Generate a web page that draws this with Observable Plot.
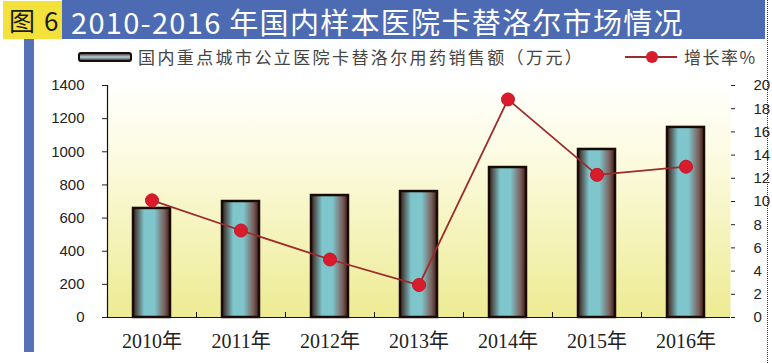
<!DOCTYPE html>
<html><head><meta charset="utf-8">
<script src="https://cdn.jsdelivr.net/npm/d3@7"></script>
<script src="https://cdn.jsdelivr.net/npm/@observablehq/plot@0.6"></script>
<style>
body{margin:0;background:#fff;}
#wrap{position:relative;width:772px;height:363px;overflow:hidden;font-family:"Noto Sans CJK SC",sans-serif;}
#chart{position:absolute;left:0;top:0;}
.bar{position:absolute;left:62px;top:0;width:703px;height:39px;background:#4d6bb2;}
.badge{position:absolute;left:3px;top:1px;width:59px;height:38px;background:#f3e23c;color:#1a1a1a;font-size:26px;line-height:38px;white-space:nowrap;}
.badge span{display:inline-block;}
.title{position:absolute;left:71px;top:0;line-height:42px;color:#fff;font-size:29px;letter-spacing:1.3px;white-space:nowrap;}
.stripe{position:absolute;left:24px;top:39px;width:10px;height:313px;background:#5572b4;}
.border{position:absolute;left:767px;top:0;width:0;height:363px;border-left:1.5px dotted #333;}
.leg1{position:absolute;left:78px;top:52px;width:50px;height:6px;border:2px solid #1a0c0a;border-radius:3px;background:linear-gradient(to bottom,#4a4a50,#b9d3d8 50%,#4a4a50);}
.leg1t{position:absolute;left:138px;top:45px;font-size:17px;letter-spacing:2.4px;color:#444;white-space:nowrap;line-height:24px;}
.leg2{position:absolute;left:625px;top:56px;width:52px;height:2px;background:#9c2b2b;}
.leg2d{position:absolute;left:646px;top:51px;width:12px;height:12px;border-radius:50%;background:#d81c2c;}
.leg2t{position:absolute;left:684px;top:45px;font-size:17px;letter-spacing:1.5px;color:#444;white-space:nowrap;line-height:24px;}
</style></head>
<body>
<div id="wrap">
  <div id="chart"></div>
  <div class="bar"></div>
  <div class="badge"><span style="margin-left:6px">图</span><span style="margin-left:9px">6</span></div>
  <div class="title">2010-2016 年国内样本医院卡替洛尔市场情况</div>
  <div class="stripe"></div>
  <div class="border"></div>
  <div class="leg1"></div>
  <div class="leg1t">国内重点城市公立医院卡替洛尔用药销售额（万元）</div>
  <div class="leg2"></div>
  <div class="leg2d"></div>
  <div class="leg2t">增长率%</div>
</div>
<script>
const years = ["2010年","2011年","2012年","2013年","2014年","2015年","2016年"];
const sales = [658, 700, 736, 760, 905, 1014, 1147];
const growth = [10.1, 7.5, 5.0, 2.8, 18.8, 12.3, 13.0];
const leftTicks = [0, 200, 400, 600, 800, 1000, 1200, 1400];
const rightTicks = [0, 2, 4, 6, 8, 10, 12, 14, 16, 18, 20];
const K = 1400 / 20;
const data = years.map((y, i) => ({year: y, sales: sales[i], growth: growth[i]}));

const svg = Plot.plot({
  width: 772, height: 363,
  marginLeft: 107, marginRight: 42, marginTop: 85, marginBottom: 46,
  style: {background: "transparent", color: "#222", fontFamily: "Liberation Sans, Arial, sans-serif", fontSize: "15px", overflow: "visible"},
  x: {domain: years, paddingInner: 0.58, paddingOuter: 0.29, label: null},
  y: {domain: [0, 1400], label: null},
  marks: [
    Plot.frame({fill: "url(#bgGrad)", stroke: "none"}),
    Plot.barY(data, {x: "year", y: "sales", fill: "url(#barGrad)", stroke: "#1a0a06", strokeWidth: 2.5}),
    Plot.ruleY([0], {stroke: "#111", strokeWidth: 1.2}),
    Plot.ruleX([years[0]], {y1: 0, y2: 1400, dx: -44.5, stroke: "#111", strokeWidth: 1.2}),
    Plot.ruleX(years.slice(1), {y1: 0, y2: 30, dx: -44.5, stroke: "#111"}),
    Plot.line(data, {x: "year", y: d => d.growth * K, stroke: "#9c2b2b", strokeWidth: 1.8}),
    Plot.dot(data, {x: "year", y: d => d.growth * K, r: 6.5, fill: "#d81c2c", stroke: "#c4142a", strokeWidth: 1}),
    Plot.axisY({ticks: leftTicks, tickFormat: d => String(d), tickSize: 5, tickPadding: 18, fontSize: 15, label: null}),
    Plot.axisY({anchor: "right", ticks: rightTicks.map(v => v * K), tickFormat: d => String(Math.round(d / K)), tickSize: 4, tickPadding: 19, fontSize: 15, label: null}),
    Plot.axisX({tickSize: 0, tickPadding: 16, fontSize: 20, fontFamily: "Liberation Serif, Noto Sans CJK SC, serif", label: null})
  ]
});

const defs = d3.select(svg).insert("defs", ":first-child");
const bg = defs.append("linearGradient").attr("id", "bgGrad").attr("x1", 0).attr("y1", 0).attr("x2", 0).attr("y2", 1);
bg.append("stop").attr("offset", "0%").attr("stop-color", "#fffffc");
bg.append("stop").attr("offset", "30%").attr("stop-color", "#fcfbe2");
bg.append("stop").attr("offset", "100%").attr("stop-color", "#edeb92");
const bar = defs.append("linearGradient").attr("id", "barGrad").attr("x1", 0).attr("y1", 0).attr("x2", 1).attr("y2", 0);
[["0%", "#3a1c16"], ["30%", "#7ec6cc"], ["58%", "#7ec6cc"], ["85%", "#7c605c"], ["100%", "#3a1c16"]]
  .forEach(([o, c]) => bar.append("stop").attr("offset", o).attr("stop-color", c));

document.getElementById("chart").appendChild(svg);
</script>
</body></html>
